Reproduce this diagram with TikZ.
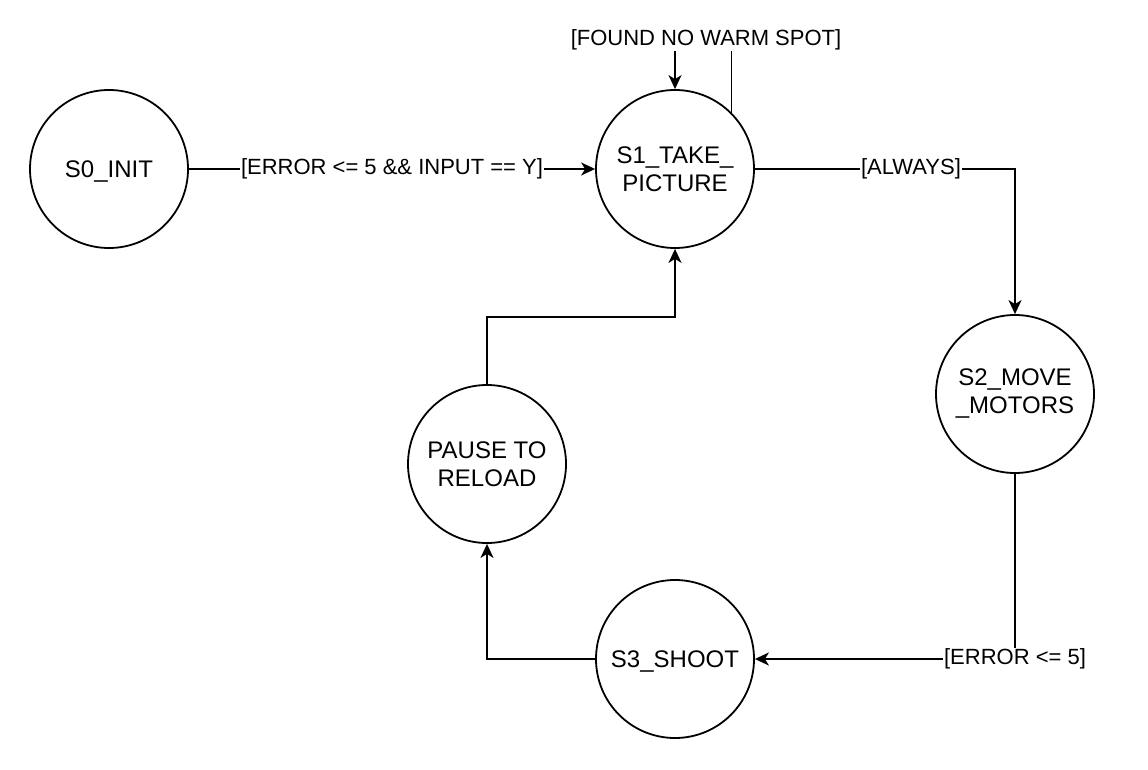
\documentclass[tikz,border=0pt]{standalone}
\usepackage{fontspec}
\setmainfont{Liberation Sans}
\usetikzlibrary{
    positioning,  % Relative positioning
    arrows.meta   % Modern arrow tips
}

\begin{document}
\begin{tikzpicture}[x=1pt, y=-1pt,
    state/.style={circle, draw, line width=1.8pt, minimum size=158pt, inner sep=0pt,
        align=center, font=\fontsize{24}{28}\selectfont},
    oneline/.style={text depth=0pt},
    edge/.style={line width=1.8pt, -{Stealth[length=14pt, width=13pt, inset=4pt]}},
    lbl/.style={fill=white, inner sep=1pt, font=\fontsize{22}{26}\selectfont}]
    \useasboundingbox (0,0) rectangle (1148,770);

    % States
    \node[state, oneline] (s0) at (109,169) {S0\_INIT};
    \node[state] (s1) at (675,169) {S1\_TAKE\_\\PICTURE};
    \node[state] (s2) at (1015,394) {S2\_MOVE\\\_MOTORS};
    \node[state, oneline] (s3) at (675,659) {S3\_SHOOT};
    \node[state] (pause) at (487,464) {PAUSE TO\\RELOAD};

    % Transitions
    \draw[edge] (s0) -- node[lbl] {[ERROR <= 5 \&\& INPUT == Y]} (s1);
    \draw[edge] (s1.east) -| node[lbl, pos=0.3] {[ALWAYS]} (s2.north);
    \draw[edge] (s2.south) |- node[lbl, pos=0.5] {[ERROR <= 5]} (s3.east);
    \draw[edge] (s3.west) -| (pause.south);
    \draw[edge] (pause.north) |- (675,317) -- (s1.south);

    % Self-loop on S1
    \coordinate (loop) at (706,40);
    \draw[edge] (s1.north east) |- (loop) -| (s1.north);
    \node[lbl] at (loop) {[FOUND NO WARM SPOT]};
\end{tikzpicture}
\end{document}
